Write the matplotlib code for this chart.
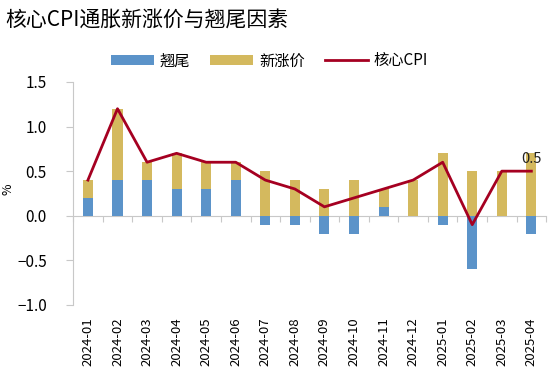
import matplotlib

matplotlib.use('Agg')
import matplotlib.pyplot as plt
import numpy as np

plt.rcParams['font.family'] = ['Noto Sans CJK SC', 'DejaVu Sans']
plt.rcParams['axes.unicode_minus'] = True

months = ['2024-01', '2024-02', '2024-03', '2024-04', '2024-05', '2024-06',
          '2024-07', '2024-08', '2024-09', '2024-10', '2024-11', '2024-12',
          '2025-01', '2025-02', '2025-03', '2025-04']
carryover = [0.2, 0.4, 0.4, 0.3, 0.3, 0.4, -0.1, -0.1, -0.2, -0.2, 0.1, 0.0,
             -0.1, -0.6, 0.0, -0.2]
new_price = [0.2, 0.8, 0.2, 0.4, 0.3, 0.2, 0.5, 0.4, 0.3, 0.4, 0.2, 0.4,
             0.7, 0.5, 0.5, 0.7]
core_cpi = [0.4, 1.2, 0.6, 0.7, 0.6, 0.6, 0.4, 0.3, 0.1, 0.2, 0.3, 0.4,
            0.6, -0.1, 0.5, 0.5]

BLUE = '#5b93c9'
GOLD = '#d4b95e'
RED = '#a50021'
GREY = '#c8c8c8'

x = np.arange(len(months))
carry = np.array(carryover)
newp = np.array(new_price)
# excel-style stacking: positives stack up from 0, negatives go down from 0
new_bottom = np.where(carry > 0, carry, 0)

fig = plt.figure(figsize=(5.5, 3.76), dpi=100)
ax = fig.add_axes([0.133, 0.189, 0.86, 0.593])

w = 0.34
b1 = ax.bar(x, carry, width=w, color=BLUE, label='翘尾', zorder=2)
b2 = ax.bar(x, newp, width=w, bottom=new_bottom, color=GOLD, label='新涨价', zorder=2)
ln, = ax.plot(x, core_cpi, color=RED, lw=2, label='核心CPI', zorder=3)
ax.text(x[-1], core_cpi[-1] + 0.06, f'{core_cpi[-1]:.1f}', ha='center', va='bottom',
        fontsize=10.5, color='#222222')

ax.set_xlim(-0.5, len(months) - 0.5)
ax.set_ylim(-1.0, 1.5)
yt = np.arange(-1.0, 1.51, 0.5)
ax.set_yticks(yt)
ax.set_yticklabels([f'{v:.1f}'.replace('-', '\u2212') for v in yt], fontsize=11)
ax.set_ylabel('%', fontsize=9)
ax.yaxis.set_label_coords(-0.125, 0.52)

ax.set_xticks(x)
ax.set_xticklabels(months, rotation=90, fontsize=9.5)
ax.tick_params(axis='x', length=0, pad=9)
ax.tick_params(axis='y', length=5, color=GREY, pad=14)

for s in ['top', 'right', 'bottom']:
    ax.spines[s].set_visible(False)
ax.spines['left'].set_color(GREY)

# zero line with category-boundary tick marks
zero = ax.secondary_xaxis(1.0 / 2.5)
zero.set_xticks(np.arange(-0.5, len(months), 1.0))
zero.set_xticklabels([])
zero.tick_params(length=4, color=GREY, direction='out')
zero.spines['bottom'].set_color(GREY)

fig.text(0.01, 0.975, '核心CPI通胀新涨价与翘尾因素', fontsize=15, ha='left', va='top')
fig.legend(handles=[b1, b2, ln], loc='center', bbox_to_anchor=(0.49, 0.838), ncol=3,
           frameon=False, fontsize=11, handlelength=2.8, handleheight=0.55,
           columnspacing=1.3, handletextpad=0.4)

fig.savefig('out.png', dpi=100)
